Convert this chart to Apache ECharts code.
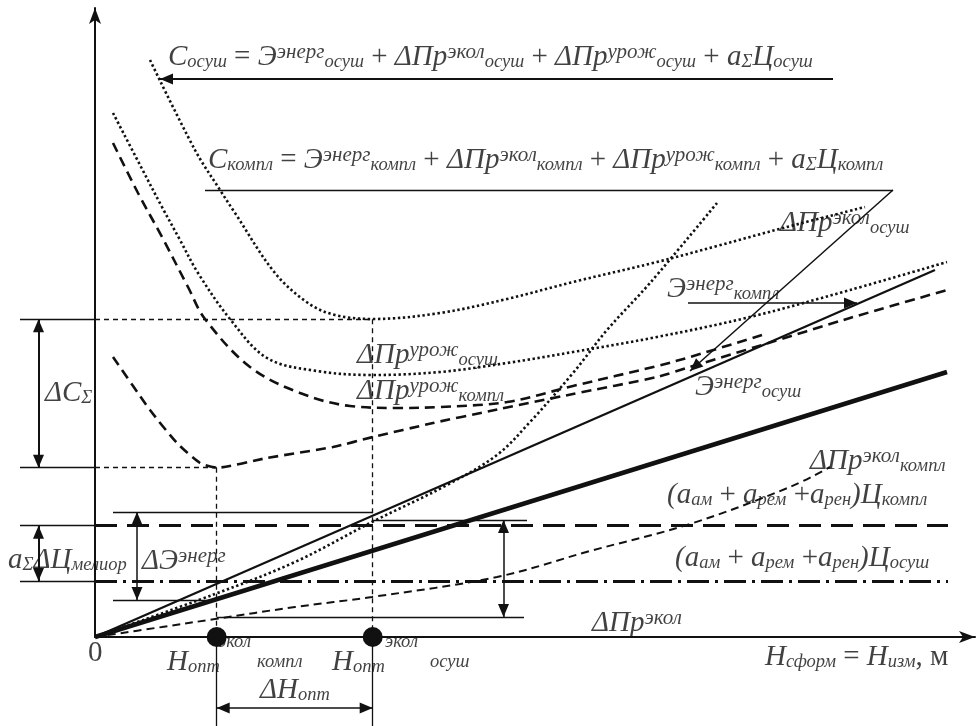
<!DOCTYPE html>
<html>
<head>
<meta charset="UTF-8">
<script src="https://cdn.jsdelivr.net/npm/echarts@6/dist/echarts.min.js"></script>
<style>
html, body { margin: 0; padding: 0; background: #fff; }
#main { width: 976px; height: 726px; }
</style>
</head>
<body>
<div id="main"></div>
<script>
// кривые затрат (схема), x - глубина H, y - затраты
var cOsush = [[5.5,57.7],[10.0,48.7],[12.5,44.7],[14.0,42.4],[18.0,36.4],[21.3,33.4],[24.0,32.2],[27.8,31.8],[34.5,32.4],[41.2,33.8],[47.8,35.5],[56.2,37.5],[62.2,39.1],[68.8,40.9],[77.0,43.0]];
var urozhOsush = [[1.8,52.4],[4.5,47.2],[6.7,43.0],[8.5,39.7],[10.3,36.4],[13.5,31.8],[17.2,27.9],[22.2,26.6],[27.8,26.2],[34.5,26.5],[41.2,27.4],[47.8,28.5],[56.2,30.0],[65.5,32.0],[75.5,34.7],[85.2,37.5]];
var urozhKompl = [[1.8,49.4],[4.3,44.4],[6.7,40.0],[9.3,35.0],[11.0,31.8],[15.5,27.0],[20.5,24.4],[25.5,23.1],[30.5,22.9],[34.5,23.0],[41.2,23.5],[47.8,25.1],[56.2,27.1],[59.5,28.0],[66.7,30.2]];
var cKompl = [[1.8,28.0],[5.5,22.7],[8.2,19.4],[10.5,17.4],[12.17,16.93],[17.2,17.9],[23.8,19.0],[27.8,20.0],[33.8,21.4],[39.5,22.6],[47.8,24.3],[56.2,26.0],[59.5,27.0],[66.7,29.2],[75.5,31.9],[85.2,34.7]];
var ekolKompl = [[0,0],[6.7,1.0],[12.0,1.8],[20.0,3.0],[27.7,4.0],[40.2,6.0],[49.5,8.6],[59.5,11.3],[69.5,15.0],[73.5,17.0]];
var ekolOsush = [[0,0],[12.0,4.3],[20.0,7.5],[27.7,11.5],[35.2,15.2],[40.2,18.2],[43.5,21.5],[47.8,26.4],[51.2,30.7],[55.5,35.4],[62.2,43.4]];
var energy = [[0,0],[84.0,36.7]];
var amort = [[0,0],[85.2,26.5]];

// уровни и отметки
var priceKompl = 11.13, priceOsush = 5.6;
var cOsushMin = 31.77, cKomplMin = 16.93;
var hOptKompl = 12.17, hOptOsush = 27.77;
var energyTop = 12.5, energyBot = 3.7, ekolTop = 11.7, ekolBot = 2.0;
var tickX = -7.5, arrowX = -5.65;

var labels = [
  {at: [7.3, 58.0], text: '{m|C}{b|осуш}{o| = }{m|Э}{p|энерг}{b|осуш}{o| + }{m|ΔПр}{p|экол}{b|осуш}{o| + }{m|ΔПр}{p|урож}{b|осуш}{o| + }{m|a}{b|Σ}{m|Ц}{b|осуш}'},
  {at: [11.3, 47.7], text: '{m|C}{b|компл}{o| = }{m|Э}{p|энерг}{b|компл}{o| + }{m|ΔПр}{p|экол}{b|компл}{o| + }{m|ΔПр}{p|урож}{b|компл}{o| + }{m|a}{b|Σ}{m|Ц}{b|компл}'},
  {at: [68.5, 41.4], text: '{m|ΔПр}{p|экол}{b|осуш}'},
  {at: [57.2, 34.8], text: '{m|Э}{p|энерг}{b|компл}'},
  {at: [60.0, 25.0], text: '{m|Э}{p|энерг}{b|осуш}'},
  {at: [26.2, 28.2], text: '{m|ΔПр}{p|урож}{b|осуш}'},
  {at: [26.2, 24.6], text: '{m|ΔПр}{p|урож}{b|компл}'},
  {at: [-5.0, 24.4], text: '{m|ΔC}{b|Σ}'},
  {at: [-8.7, 7.7], text: '{m|a}{b|Σ}{m|ΔЦ}{b|мелиор}'},
  {at: [4.7, 7.6], text: '{m|ΔЭ}{p|энерг}'},
  {at: [71.5, 17.6], text: '{m|ΔПр}{p|экол}{b|компл}'},
  {at: [57.2, 14.2], text: '{m|(a}{b|ам}{o| + }{m|a}{b|рем}{o| +}{m|a}{b|рен}{m|)Ц}{b|компл}'},
  {at: [58.0, 7.9], text: '{m|(a}{b|ам}{o| + }{m|a}{b|рем}{o| +}{m|a}{b|рен}{m|)Ц}{b|осуш}'},
  {at: [49.7, 1.4], text: '{m|ΔПр}{p|экол}'},
  {at: [67.0, -2.0], text: '{m|H}{b|сформ}{o| = }{m|H}{b|изм}{o|, м}'},
  {at: [-0.7, -1.6], text: '{o|0}'},
  {at: [7.2, -2.5], text: '{m|H}{b|опт}'},
  {at: [12.3, -0.7], text: '{b|экол}'},
  {at: [16.2, -2.7], text: '{b|компл}'},
  {at: [23.7, -2.5], text: '{m|H}{b|опт}'},
  {at: [29.0, -0.7], text: '{b|экол}'},
  {at: [33.5, -2.7], text: '{b|осуш}'},
  {at: [16.5, -5.3], text: '{m|ΔH}{b|опт}'}
];

function seg(x1, y1, x2, y2) {
  return {coords: [[x1, y1], [x2, y2]]};
}

var ink = '#111';
var serif = 'Liberation Serif';
// стрелка, острие в конечной точке
var arrowHead = 'path://M5.5 13L11 26L0 26ZM5.5 0';

function curve(data, width, dash, smooth) {
  return {
    type: 'line', data: data, symbol: 'none', smooth: smooth || 0.35, clip: false, silent: true,
    lineStyle: {color: ink, width: width, type: dash || 'solid', cap: 'butt'}
  };
}

function segs(data, width, dash, symbol) {
  return {
    type: 'lines', coordinateSystem: 'cartesian2d', clip: false, silent: true,
    data: data,
    symbol: symbol || ['none', 'none'],
    symbolSize: [[11, 26], [11, 26]],
    lineStyle: {color: ink, width: width, type: dash || 'solid', opacity: 1, curveness: 0},
    itemStyle: {color: ink}
  };
}

var myChart = echarts.init(document.getElementById('main'));

var option = {
  animation: false,
  backgroundColor: '#fff',
  grid: {left: 95, right: 1, top: 8, bottom: 89},
  xAxis: {
    type: 'value', min: 0, max: 88,
    axisLine: {lineStyle: {color: ink, width: 2}, symbol: ['none', 'arrow'], symbolSize: [9, 16]},
    axisTick: {show: false}, axisLabel: {show: false}, splitLine: {show: false}
  },
  yAxis: {
    type: 'value', min: 0, max: 62.9,
    axisLine: {show: true, lineStyle: {color: ink, width: 2}, symbol: ['none', 'arrow'], symbolSize: [9, 16]},
    axisTick: {show: false}, axisLabel: {show: false}, splitLine: {show: false}
  },
  series: [
    curve(cOsush, 2.6, [2.4, 2.6]),
    curve(urozhOsush, 2.6, [2.4, 2.6]),
    curve(ekolOsush, 2.6, [2.4, 2.6]),
    curve(urozhKompl, 2.6, [10, 6]),
    curve(cKompl, 2.6, [10, 6], 0.2),
    curve(ekolKompl, 2, [8, 5]),
    curve(energy, 2.2),
    curve(amort, 4.5),
    segs([seg(0, priceKompl, 85.3, priceKompl)], 3, [22, 10]),
    segs([seg(0, priceOsush, 85.3, priceOsush)], 3, [22, 6, 3, 6]),
    segs([
      seg(0, cOsushMin, hOptOsush, cOsushMin),
      seg(0, cKomplMin, hOptKompl, cKomplMin),
      seg(hOptKompl, cKomplMin, hOptKompl, 0),
      seg(hOptOsush, cOsushMin, hOptOsush, 0)
    ], 1.3, [5, 4]),
    segs([
      seg(tickX, cOsushMin, 0, cOsushMin),
      seg(tickX, cKomplMin, 0, cKomplMin),
      seg(tickX, priceKompl, 0, priceKompl),
      seg(tickX, priceOsush, 0, priceOsush),
      seg(1.8, energyTop, hOptOsush, energyTop),
      seg(hOptOsush, ekolTop, 43.2, ekolTop),
      seg(1.8, energyBot, 11.5, energyBot),
      seg(hOptKompl, ekolBot, 42.9, ekolBot),
      seg(hOptKompl, 0, hOptKompl, -9),
      seg(hOptOsush, 0, hOptOsush, -9),
      seg(11.0, 44.7, 79.8, 44.7)
    ], 1.3),
    segs([
      seg(arrowX, cOsushMin, arrowX, cKomplMin),
      seg(arrowX, priceKompl, arrowX, priceOsush)
    ], 2, 'solid', [arrowHead, arrowHead]),
    segs([
      seg(4.2, energyTop, 4.2, energyBot),
      seg(40.85, ekolTop, 40.85, ekolBot),
      seg(hOptKompl, -7.1, hOptOsush, -7.1)
    ], 1.5, 'solid', [arrowHead, arrowHead]),
    segs([seg(73.8, 55.8, 6.5, 55.8)], 2, 'solid', ['none', arrowHead]),
    segs([
      seg(79.8, 44.7, 59.5, 26.6),
      seg(59.3, 33.4, 76.2, 33.4)
    ], 1.5, 'solid', ['none', arrowHead]),
    {
      type: 'scatter', silent: true, clip: false, z: 5,
      data: [[hOptKompl, 0], [hOptOsush, 0]],
      symbolSize: 20, itemStyle: {color: ink, opacity: 1}
    },
    {
      type: 'scatter', silent: true, clip: false, symbolSize: 0,
      data: labels.map(function (l) {
        return {value: l.at, label: {formatter: l.text}};
      }),
      label: {
        show: true, position: 'right', distance: 0, color: ink,
        rich: {
          m: {fontFamily: serif, fontStyle: 'italic', fontSize: 29, lineHeight: 30, color: ink},
          o: {fontFamily: serif, fontSize: 29, lineHeight: 30, color: ink},
          p: {fontFamily: serif, fontStyle: 'italic', fontSize: 21, lineHeight: 14, verticalAlign: 'top', color: ink},
          b: {fontFamily: serif, fontStyle: 'italic', fontSize: 18.5, lineHeight: 16, verticalAlign: 'bottom', color: ink}
        }
      }
    }
  ]
};

myChart.setOption(option);
</script>
</body>
</html>
